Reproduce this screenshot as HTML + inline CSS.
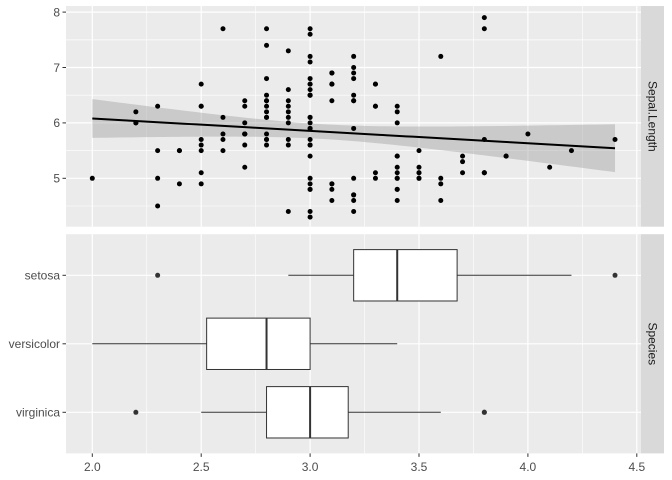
<!DOCTYPE html>
<html><head><meta charset="utf-8"><style>
body{margin:0;background:#fff;}
svg{display:block;font-family:"Liberation Sans",Arial,sans-serif;}
</style></head><body>
<svg id="chart" width="672" height="480"></svg>
<script>
const sepalLength=[5.1,4.9,4.7,4.6,5.0,5.4,4.6,5.0,4.4,4.9,5.4,4.8,4.8,4.3,5.8,5.7,5.4,5.1,5.7,5.1,5.4,5.1,4.6,5.1,4.8,5.0,5.0,5.2,5.2,4.7,4.8,5.4,5.2,5.5,4.9,5.0,5.5,4.9,4.4,5.1,5.0,4.5,4.4,5.0,5.1,4.8,5.1,4.6,5.3,5.0,
7.0,6.4,6.9,5.5,6.5,5.7,6.3,4.9,6.6,5.2,5.0,5.9,6.0,6.1,5.6,6.7,5.6,5.8,6.2,5.6,5.9,6.1,6.3,6.1,6.4,6.6,6.8,6.7,6.0,5.7,5.5,5.5,5.8,6.0,5.4,6.0,6.7,6.3,5.6,5.5,5.5,6.1,5.8,5.0,5.6,5.7,5.7,6.2,5.1,5.7,
6.3,5.8,7.1,6.3,6.5,7.6,4.9,7.3,6.7,7.2,6.5,6.4,6.8,5.7,5.8,6.4,6.5,7.7,7.7,6.0,6.9,5.6,7.7,6.3,6.7,7.2,6.2,6.1,6.4,7.2,7.4,7.9,6.4,6.3,6.1,7.7,6.3,6.4,6.0,6.9,6.7,6.9,5.8,6.8,6.7,6.7,6.3,6.5,6.2,5.9];
const sepalWidth=[3.5,3.0,3.2,3.1,3.6,3.9,3.4,3.4,2.9,3.1,3.7,3.4,3.0,3.0,4.0,4.4,3.9,3.5,3.8,3.8,3.4,3.7,3.6,3.3,3.4,3.0,3.4,3.5,3.4,3.2,3.1,3.4,4.1,4.2,3.1,3.2,3.5,3.6,3.0,3.4,3.5,2.3,3.2,3.5,3.8,3.0,3.8,3.2,3.7,3.3,
3.2,3.2,3.1,2.3,2.8,2.8,3.3,2.4,2.9,2.7,2.0,3.0,2.2,2.9,2.9,3.1,3.0,2.7,2.2,2.5,3.2,2.8,2.5,2.8,2.9,3.0,2.8,3.0,2.9,2.6,2.4,2.4,2.7,2.7,3.0,3.4,3.1,2.3,3.0,2.5,2.6,3.0,2.6,2.3,2.7,3.0,2.9,2.9,2.5,2.8,
3.3,2.7,3.0,2.9,3.0,3.0,2.5,2.9,2.5,3.6,3.2,2.7,3.0,2.5,2.8,3.2,3.0,3.8,2.6,2.2,3.2,2.8,2.8,2.7,3.3,3.2,2.8,3.0,2.8,3.0,2.8,3.8,2.8,2.8,2.6,3.0,3.4,3.1,3.0,3.1,3.1,3.1,2.7,3.2,3.3,3.0,2.5,3.0,3.4,3.0];
const species=["setosa","versicolor","virginica"];
const xTicks=[2.0,2.5,3.0,3.5,4.0,4.5];
const yTicks=[5,6,7,8];

const NS="http://www.w3.org/2000/svg";
const svg=document.getElementById("chart");
function mk(tag,attrs,parent){const e=document.createElementNS(NS,tag);for(const k in attrs)e.setAttribute(k,attrs[k]);(parent||svg).appendChild(e);return e;}
const PL=66,PR=641,FS=12;
const X=v=>92.3+(v-2.0)*217.8;
const T0=6,T1=226.7; const Y=v=>178.3-(v-5)*55.4;
const B0=234.2,B1=453.4; const C=i=>B0+(0.6+i)*68.5;

const tp=mk("rect",{x:PL,y:T0,width:PR-PL,height:T1-T0,fill:"#EBEBEB"});

const bp=mk("rect",{x:PL,y:B0,width:PR-PL,height:B1-B0,fill:"#EBEBEB"});

xTicks.forEach((t,i)=>{
  if(i<xTicks.length-1){const m=X(t+0.25);
    mk("line",{x1:m,x2:m,y1:T0,y2:T1,stroke:"#fff","stroke-width":0.6});
    mk("line",{x1:m,x2:m,y1:B0,y2:B1,stroke:"#fff","stroke-width":0.6});}
  const x=X(t);
  mk("line",{x1:x,x2:x,y1:T0,y2:T1,stroke:"#fff","stroke-width":1.2});
  mk("line",{x1:x,x2:x,y1:B0,y2:B1,stroke:"#fff","stroke-width":1.2});
  mk("line",{x1:x,x2:x,y1:B1,y2:B1+3.5,stroke:"#333","stroke-width":1});
  const lb=mk("text",{x:x,y:471,"text-anchor":"middle","font-size":FS,fill:"#4D4D4D"});lb.textContent=t.toFixed(1);
  
});
yTicks.forEach((t)=>{
  const y=Y(t);
  const m=Y(t-0.5);mk("line",{x1:PL,x2:PR,y1:m,y2:m,stroke:"#fff","stroke-width":0.6});
  mk("line",{x1:PL,x2:PR,y1:y,y2:y,stroke:"#fff","stroke-width":1.2});
  mk("line",{x1:PL-3.5,x2:PL,y1:y,y2:y,stroke:"#333","stroke-width":1});
  const lb=mk("text",{x:PL-6,y:y+4.3,"text-anchor":"end","font-size":FS,fill:"#4D4D4D"});lb.textContent=t;
  
});
{const m=Y(7.5);mk("line",{x1:PL,x2:PR,y1:m,y2:m,stroke:"#fff","stroke-width":0.6});}
species.forEach((s,i)=>{
  const y=C(i);
  mk("line",{x1:PL,x2:PR,y1:y,y2:y,stroke:"#fff","stroke-width":1.2});
  mk("line",{x1:PL-3.5,x2:PL,y1:y,y2:y,stroke:"#333","stroke-width":1});
  const lb=mk("text",{x:PL-6,y:y+4.3,"text-anchor":"end","font-size":FS,fill:"#4D4D4D"});lb.textContent=s;
  
});
const n=sepalWidth.length;
const mx=sepalWidth.reduce((a,b)=>a+b)/n, my=sepalLength.reduce((a,b)=>a+b)/n;
let sxx=0,sxy=0;for(let i=0;i<n;i++){sxx+=(sepalWidth[i]-mx)**2;sxy+=(sepalWidth[i]-mx)*(sepalLength[i]-my);}
const b=sxy/sxx,a=my-b*mx;
let sse=0;for(let i=0;i<n;i++)sse+=(sepalLength[i]-a-b*sepalWidth[i])**2;
const s=Math.sqrt(sse/(n-2)),tq=1.976;
const xmin=Math.min(...sepalWidth),xmax=Math.max(...sepalWidth);
let up=[],lo=[],ln=[];
for(let k=0;k<=80;k++){const x=xmin+(xmax-xmin)*k/80;const f=a+b*x;const se=s*Math.sqrt(1/n+(x-mx)**2/sxx);
  up.push(X(x)+","+Y(f+tq*se));lo.unshift(X(x)+","+Y(f-tq*se));ln.push(X(x)+","+Y(f));}
const band=mk("polygon",{points:up.concat(lo).join(" "),fill:"#999",opacity:0.4});

for(let i=0;i<n;i++){const p=mk("circle",{cx:X(sepalWidth[i]),cy:Y(sepalLength[i]),r:2.5,fill:"#000"});
  }
const rl=mk("polyline",{points:ln.join(" "),fill:"none",stroke:"#000","stroke-width":2});

function q(arr,p){const v=[...arr].sort((a,b)=>a-b);const h=(v.length-1)*p;const l=Math.floor(h);return v[l]+(h-l)*((v[Math.min(l+1,v.length-1)])-v[l]);}
species.forEach((sp,i)=>{
  const d=sepalWidth.slice(i*50,i*50+50);
  const q1=q(d,.25),md=q(d,.5),q3=q(d,.75),iq=q3-q1;
  const inl=d.filter(v=>v>=q1-1.5*iq&&v<=q3+1.5*iq);
  const wl=Math.min(...inl),wh=Math.max(...inl);
  const y=C(i),h=0.75*68.5/2;
  const g=mk("g",{});
  mk("line",{x1:X(wl),x2:X(q1),y1:y,y2:y,stroke:"#333","stroke-width":1},g);
  mk("line",{x1:X(q3),x2:X(wh),y1:y,y2:y,stroke:"#333","stroke-width":1},g);
  mk("rect",{x:X(q1),y:y-h,width:X(q3)-X(q1),height:2*h,fill:"#fff",stroke:"#333","stroke-width":1},g);
  mk("line",{x1:X(md),x2:X(md),y1:y-h,y2:y+h,stroke:"#333","stroke-width":2},g);
  d.filter(v=>v<wl||v>wh).forEach(v=>{const o=mk("circle",{cx:X(v),cy:y,r:2.5,fill:"#333"},g);
    });
});
[[T0,T1,"Sepal.Length"],[B0,B1,"Species"]].forEach(([y0,y1,t])=>{
  const r=mk("rect",{x:641,y:y0,width:23,height:y1-y0,fill:"#D9D9D9"});
  
  const cy=(y0+y1)/2;
  const tx=mk("text",{x:652.5,y:cy,"text-anchor":"middle","dominant-baseline":"central","font-size":FS,fill:"#1A1A1A",transform:`rotate(90 652.5 ${cy})`});
  tx.textContent=t;
});
</script>
</body></html>
